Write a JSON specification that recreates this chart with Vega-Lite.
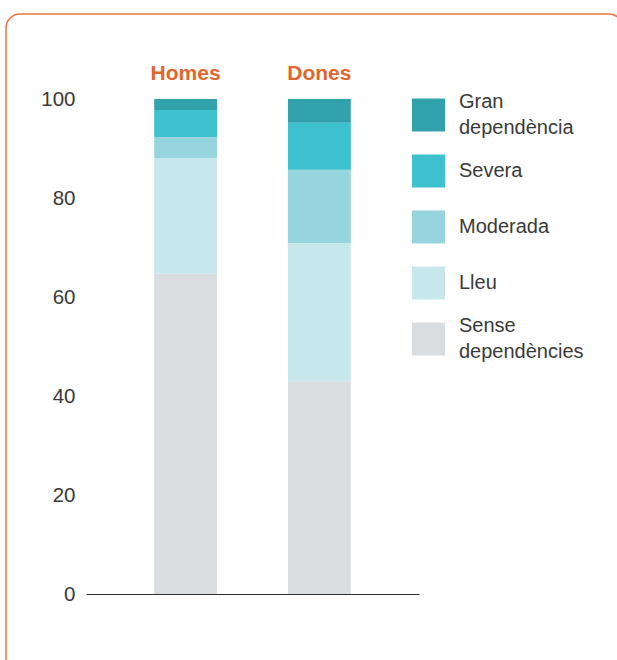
{
  "$schema": "https://vega.github.io/schema/vega-lite/v6.json",
  "width": 617,
  "height": 660,
  "autosize": {"type": "none"},
  "padding": {"left": 6, "top": 14, "right": 0, "bottom": 0},
  "background": "white",
  "data": {
    "values": [
      {"sexe": "Homes", "grau": "Sense dependències", "ord": 1, "valor": 64.7},
      {"sexe": "Homes", "grau": "Lleu", "ord": 2, "valor": 23.4},
      {"sexe": "Homes", "grau": "Moderada", "ord": 3, "valor": 4.2},
      {"sexe": "Homes", "grau": "Severa", "ord": 4, "valor": 5.5},
      {"sexe": "Homes", "grau": "Gran dependència", "ord": 5, "valor": 2.2},
      {"sexe": "Dones", "grau": "Sense dependències", "ord": 1, "valor": 43.0},
      {"sexe": "Dones", "grau": "Lleu", "ord": 2, "valor": 27.9},
      {"sexe": "Dones", "grau": "Moderada", "ord": 3, "valor": 14.8},
      {"sexe": "Dones", "grau": "Severa", "ord": 4, "valor": 9.5},
      {"sexe": "Dones", "grau": "Gran dependència", "ord": 5, "valor": 4.8}
    ]
  },
  "layer": [
    {
      "mark": {"type": "bar"},
      "encoding": {
        "x": {
          "field": "sexe", "type": "nominal", "sort": ["Homes", "Dones"],
          "scale": {"range": [80, 413], "paddingInner": 0.53, "paddingOuter": 0.51},
          "axis": {"orient": "bottom", "offset": -80, "labels": false, "ticks": false, "tickSize": 0, "title": null, "domain": true, "domainColor": "#333333", "domainWidth": 1.2}
        },
        "y": {
          "field": "valor", "type": "quantitative", "stack": "zero",
          "scale": {"domain": [0, 100], "range": [580, 85], "nice": false},
          "axis": {"orient": "left", "offset": -80, "values": [0, 20, 40, 60, 80, 100], "grid": false, "domain": false, "ticks": false, "tickSize": 0, "labelPadding": 11, "title": null, "labelFontSize": 20.5, "labelColor": "#3a3a3a", "labelFont": "Liberation Sans"}
        },
        "color": {
          "field": "grau", "type": "nominal",
          "scale": {
            "domain": ["Gran dependència", "Severa", "Moderada", "Lleu", "Sense dependències"],
            "range": ["#31a1ac", "#3dc1cf", "#96d5de", "#c6e7ec", "#d9dde0"]
          },
          "legend": {
            "orient": "none", "legendX": 406, "legendY": 84.5, "title": null,
            "symbolType": "square", "symbolSize": 1089, "symbolStrokeWidth": 0, "symbolOpacity": 1,
            "labelFontSize": 20, "labelFont": "Liberation Sans", "labelColor": "#3a3a3a",
            "labelOffset": 14, "rowPadding": 9, "gridAlign": "all", "labelLimit": 300, "padding": 0,
            "labelExpr": "datum.label == 'Gran dependència' ? ['Gran', '\u200b', 'dependència'] : datum.label == 'Sense dependències' ? ['Sense', '\u200b', 'dependències'] : ['\u200b', datum.label, '\u200b']",
            "encode": {"labels": {"update": {"dy": {"value": -13}}}}
          }
        },
        "order": {"field": "ord", "type": "quantitative"}
      }
    },
    {
      "mark": {"type": "bar", "opacity": 0},
      "encoding": {
        "x": {
          "field": "sexe", "type": "nominal", "sort": ["Homes", "Dones"],
          "axis": {"orient": "top", "offset": -65.5, "labels": true, "ticks": false, "tickSize": 0, "labelPadding": 0, "labelBaseline": "alphabetic", "title": null, "domain": false, "labelAngle": 0, "labelFontSize": 21, "labelFontWeight": "bold", "labelColor": "#e2662c", "labelFont": "Liberation Sans"}
        },
        "y": {"field": "valor", "type": "quantitative", "stack": "zero"},
        "color": {"field": "grau", "type": "nominal"},
        "order": {"field": "ord", "type": "quantitative"}
      }
    }
  ],
  "resolve": {"axis": {"x": "independent"}},
  "config": {
    "font": "Liberation Sans",
    "view": {"stroke": "#e8773f", "strokeWidth": 1.5, "cornerRadius": 14},
    "style": {"guide-label": {"lineHeight": 13}}
  }
}
